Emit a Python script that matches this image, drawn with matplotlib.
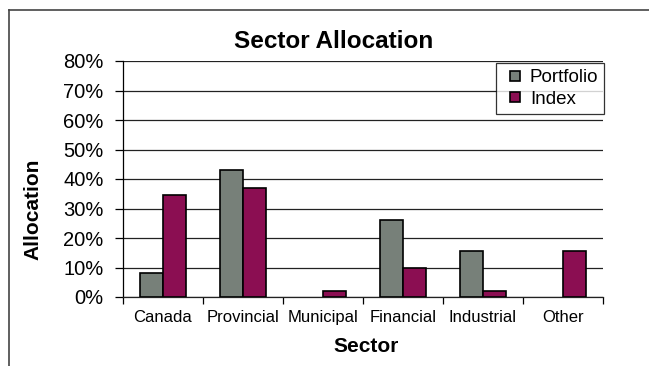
import matplotlib
matplotlib.use('Agg')
import matplotlib.pyplot as plt
import numpy as np
from matplotlib.lines import Line2D
from matplotlib.ticker import FuncFormatter

plt.rcParams['font.family'] = ['Liberation Sans', 'DejaVu Sans']

# Data
sectors = ['Canada', 'Provincial', 'Municipal', 'Financial', 'Industrial', 'Other']
portfolio = [8.0, 43.0, 0.0, 26.0, 15.5, 0.0]
index = [34.5, 37.0, 2.0, 10.0, 2.0, 15.5]

gray = '#778079'
maroon = '#8B0E52'

fig = plt.figure(figsize=(6.49, 3.66), dpi=100)
ax = fig.add_axes([123 / 649, 1 - 297 / 366, 480 / 649, 236 / 366])

x = np.arange(len(sectors))
w = 0.29
# zero-height bars get no outline (Excel draws nothing for them)
lw_p = [1.2 if v > 0 else 0 for v in portfolio]
lw_i = [1.2 if v > 0 else 0 for v in index]
ax.bar(x - w / 2, portfolio, w, color=gray, edgecolor='black', linewidth=lw_p,
       zorder=3)
ax.bar(x + w / 2, index, w, color=maroon, edgecolor='black', linewidth=lw_i,
       zorder=3)

ax.set_xlim(-0.5, len(sectors) - 0.5)
ax.set_ylim(0, 80)
ax.set_yticks(np.arange(0, 81, 10))
ax.yaxis.set_major_formatter(FuncFormatter(lambda v, p: f'{v:.0f}%'))
ax.grid(axis='y', color='#222222', linewidth=0.9, zorder=0)

# category boundary ticks on x axis, labels in between
ax.set_xticks(np.arange(-0.5, len(sectors), 1.0))
ax.set_xticklabels([])
ax.set_xticks(x, minor=True)
ax.set_xticklabels(sectors, minor=True, fontsize=12)
for lab in ax.get_xticklabels(minor=True):
    lab.set_va('baseline')
ax.tick_params(axis='x', which='minor', length=0, pad=18)
ax.tick_params(axis='x', which='major', length=5, width=0.9, direction='out')
ax.tick_params(axis='y', length=6, width=0.9, labelsize=14.5, pad=8)

for s in ['top', 'right']:
    ax.spines[s].set_visible(False)
ax.spines['left'].set_linewidth(0.9)
ax.spines['bottom'].set_linewidth(0.9)
ax.spines['bottom'].set_color('#222222')

fig.text(366 / 649, 1 - 347 / 366, 'Sector', fontsize=15, fontweight='bold',
         ha='center', va='center')
fig.text(33 / 649, 1 - 209 / 366, 'Allocation', rotation=90, fontsize=15,
         fontweight='bold', ha='center', va='center')
fig.text(334 / 649, 1 - 41 / 366, 'Sector Allocation', fontsize=17.5,
         fontweight='bold', ha='center', va='center')

# legend with small square swatches like Excel
handles = [Line2D([], [], linestyle='none', marker='s', markersize=7.5,
                  markerfacecolor=c, markeredgecolor='black', markeredgewidth=1.2)
           for c in (gray, maroon)]
leg = ax.legend(handles, ['Portfolio', 'Index'], loc='upper right',
                bbox_to_anchor=(1.002, 0.99), fontsize=13.5,
                frameon=True, fancybox=False, edgecolor='black',
                handlelength=1.43, handletextpad=0.05,
                borderpad=0.3, labelspacing=0.25, borderaxespad=0)
leg.get_frame().set_linewidth(0.9)

# outer frame (top and left edges)
fig.add_artist(Line2D([9 / 649, 1], [1 - 10 / 366, 1 - 10 / 366],
                      color='#444444', linewidth=1.2, transform=fig.transFigure))
fig.add_artist(Line2D([9 / 649, 9 / 649], [0, 1 - 10 / 366],
                      color='#444444', linewidth=1.2, transform=fig.transFigure))

fig.savefig('out.png', dpi=100)
